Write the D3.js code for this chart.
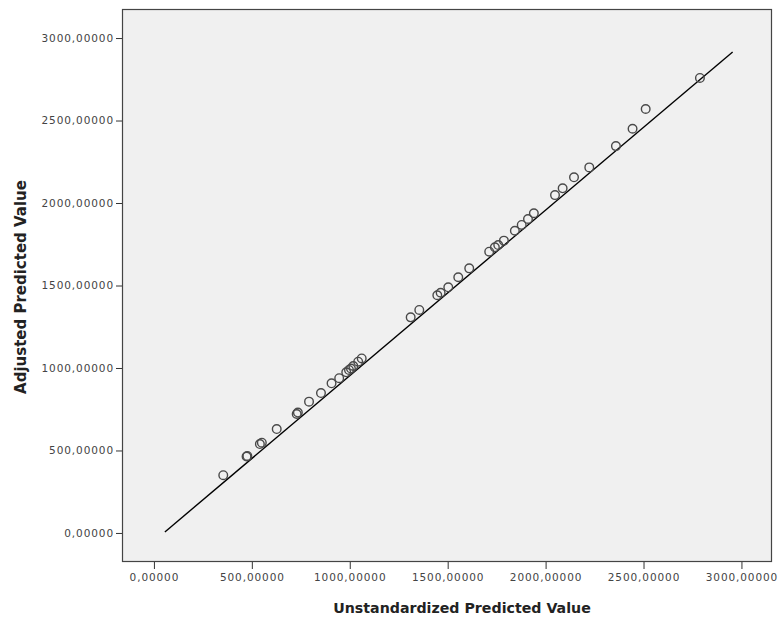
<!DOCTYPE html>
<html>
<head>
<meta charset="utf-8">
<script src="https://cdn.jsdelivr.net/npm/d3@7"></script>
<style>
  body { margin: 0; background: #fff; }
  svg { display: block; }
</style>
</head>
<body>
<svg id="chart" width="778" height="623"></svg>
<script>
// Predicted values per case: unstandardized (x) vs adjusted (y)
const unstandardized = [354, 473, 477, 541, 551, 627, 729, 735, 792, 853, 907, 946, 982, 996, 1006, 1018, 1043, 1061,
  1311, 1355, 1447, 1464, 1503, 1554, 1610, 1712, 1741, 1758, 1787, 1843, 1878, 1910, 1940,
  2048, 2087, 2145, 2223, 2359, 2444, 2511, 2788];
const adjusted = [350, 463, 467, 539, 547, 630, 721, 730, 796, 848, 907, 938, 974, 988, 997, 1012, 1038, 1058,
  1307, 1352, 1441, 1456, 1489, 1550, 1604, 1705, 1732, 1745, 1772, 1832, 1867, 1903, 1938,
  2048, 2089, 2156, 2216, 2345, 2450, 2570, 2758];

// Fit line end points
const fitLineX = [56, 2955];
const fitLineY = [6, 2915];

const tickValues = [0, 500, 1000, 1500, 2000, 2500, 3000];
const tickLabel = v => d3.format(".5f")(v).replace(".", ",");

const frame = { left: 122, top: 9, right: 772, bottom: 562 };

const x = d3.scaleLinear().domain([-163, 3156]).range([frame.left, frame.right]);
const y = d3.scaleLinear().domain([-176, 3176]).range([frame.bottom, frame.top]);

const svg = d3.select("#chart");

// plot area
svg.append("rect")
  .attr("x", frame.left).attr("y", frame.top)
  .attr("width", frame.right - frame.left).attr("height", frame.bottom - frame.top)
  .attr("fill", "#f0f0f0").attr("stroke", "none");

// axes
const xAxis = svg.append("g")
  .attr("transform", `translate(0,${frame.bottom})`)
  .call(d3.axisBottom(x).tickValues(tickValues).tickFormat(tickLabel).tickSize(7).tickPadding(5));
const yAxis = svg.append("g")
  .attr("transform", `translate(${frame.left},0)`)
  .call(d3.axisLeft(y).tickValues(tickValues).tickFormat(tickLabel).tickSize(6).tickPadding(2));

[xAxis, yAxis].forEach(g => {
  g.select(".domain").remove();
  g.selectAll(".tick line").attr("stroke", "#333");
  g.selectAll(".tick text")
    .attr("fill", "#444")
    .style("font-family", "'DejaVu Sans', Verdana, sans-serif")
    .style("font-size", "10.5px")
    .style("letter-spacing", "0.9px");
});

// fit line
svg.append("line")
  .attr("x1", x(fitLineX[0])).attr("y1", y(fitLineY[0]))
  .attr("x2", x(fitLineX[1])).attr("y2", y(fitLineY[1]))
  .attr("stroke", "#000").attr("stroke-width", 1.4);

// points
svg.append("g")
  .selectAll("circle")
  .data(unstandardized.map((v, i) => [v, adjusted[i]]))
  .join("circle")
  .attr("cx", d => x(d[0]))
  .attr("cy", d => y(d[1]))
  .attr("r", 4.3)
  .attr("fill", "none")
  .attr("stroke", "#4a4a4a")
  .attr("stroke-width", 1.4);

// frame
svg.append("rect")
  .attr("x", frame.left + 0.5).attr("y", frame.top + 0.5)
  .attr("width", frame.right - frame.left - 1).attr("height", frame.bottom - frame.top - 1)
  .attr("fill", "none").attr("stroke", "#444").attr("stroke-width", 1.2);

// axis titles
svg.append("text")
  .attr("x", 462).attr("y", 613)
  .attr("text-anchor", "middle")
  .style("font-family", "'DejaVu Sans', Verdana, sans-serif")
  .style("font-size", "14.2px").style("font-weight", "bold")
  .attr("fill", "#222")
  .text("Unstandardized Predicted Value");

svg.append("text")
  .attr("transform", `translate(26,287) rotate(-90)`)
  .attr("text-anchor", "middle")
  .style("font-family", "'DejaVu Sans', Verdana, sans-serif")
  .style("font-size", "15px").style("font-weight", "bold")
  .attr("fill", "#222")
  .text("Adjusted Predicted Value");
</script>
</body>
</html>
